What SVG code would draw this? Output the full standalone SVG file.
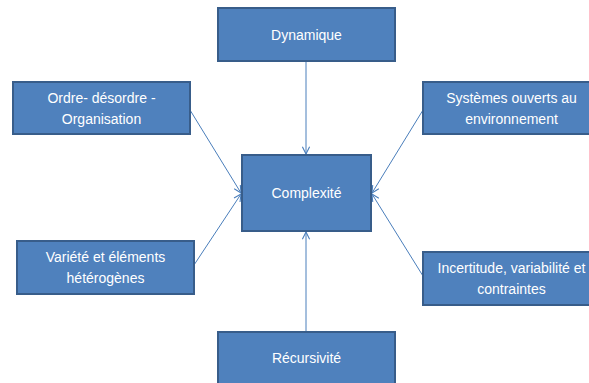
<svg xmlns="http://www.w3.org/2000/svg" width="589" height="383" viewBox="0 0 589 383">
<style>
.box{fill:#4F81BD;stroke:#385D8A;stroke-width:2}
.t{font-family:"Liberation Sans",Arial,sans-serif;font-size:14px;fill:#fff;text-anchor:middle;dominant-baseline:central}
.c{stroke:#4A7EBB;stroke-width:1;fill:none;marker-end:url(#a)}
</style>
<defs>
<marker id="a" viewBox="0 0 10 10" refX="9" refY="5" markerWidth="9" markerHeight="9" markerUnits="userSpaceOnUse" orient="auto">
<path d="M1,1 L9,5 L1,9" fill="none" stroke="#4A7EBB" stroke-width="1.2"/>
</marker>
</defs>
<rect width="589" height="383" fill="#fff"/>
<g id="connectors">
<line class="c" x1="306" y1="61" x2="306" y2="154"/>
<line class="c" x1="190" y1="110" x2="241" y2="193"/>
<line class="c" x1="423" y1="110" x2="372" y2="193"/>
<line class="c" x1="194" y1="265" x2="241" y2="194"/>
<line class="c" x1="423" y1="276" x2="372" y2="194"/>
<line class="c" x1="306" y1="332" x2="306" y2="232"/>
</g>
<g id="dynamique">
<rect class="box" x="218" y="8" width="177" height="53"/>
<text class="t" x="306.5" y="34.5">Dynamique</text>
</g>
<g id="ordre">
<rect class="box" x="13" y="82" width="177" height="52"/>
<text class="t" x="101.5" y="98">Ordre- désordre -</text>
<text class="t" x="101.5" y="119">Organisation</text>
</g>
<g id="systemes">
<rect class="box" x="423" y="82" width="177" height="52"/>
<text class="t" x="511.5" y="98">Systèmes ouverts au</text>
<text class="t" x="511.5" y="119">environnement</text>
</g>
<g id="complexite">
<rect class="box" x="242" y="155" width="129" height="76"/>
<text class="t" x="306.5" y="193">Complexité</text>
</g>
<g id="variete">
<rect class="box" x="17" y="241" width="177" height="53"/>
<text class="t" x="105.5" y="257">Variété et éléments</text>
<text class="t" x="105.5" y="278">hétérogènes</text>
</g>
<g id="incertitude">
<rect class="box" x="423" y="252" width="177" height="53"/>
<text class="t" x="511.5" y="268">Incertitude, variabilité et</text>
<text class="t" x="511.5" y="289">contraintes</text>
</g>
<g id="recursivite">
<rect class="box" x="218" y="332" width="177" height="53"/>
<text class="t" x="306.5" y="358">Récursivité</text>
</g>
</svg>
